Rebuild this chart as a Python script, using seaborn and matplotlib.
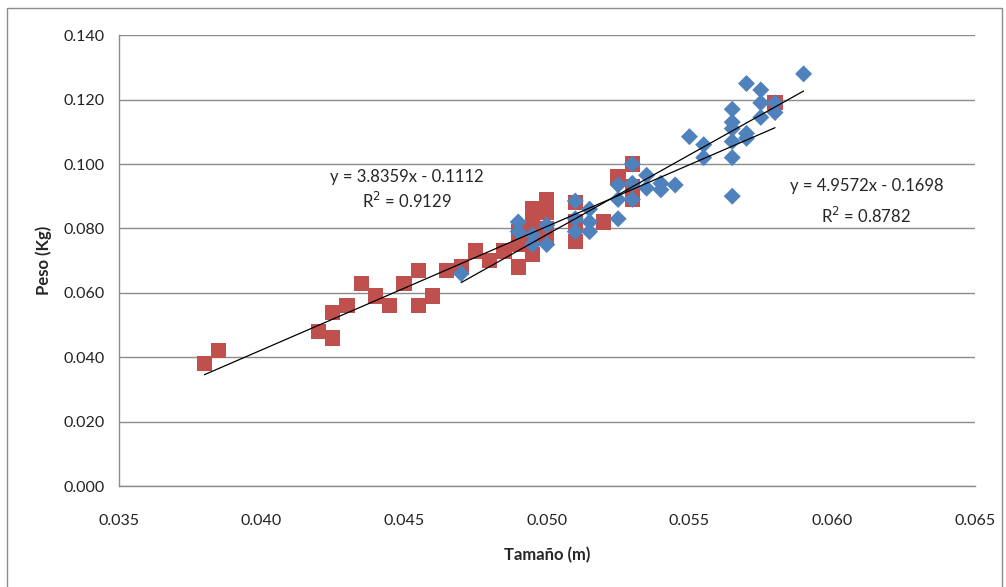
import numpy as np
import pandas as pd
import matplotlib
matplotlib.use('Agg')
import matplotlib.pyplot as plt
import seaborn as sns

# red series (squares)
red_x = [0.0380, 0.0385, 0.0420, 0.0425, 0.0425, 0.0430, 0.0435, 0.0440, 0.0445,
         0.0450, 0.0455, 0.0455, 0.0460, 0.0465, 0.0470, 0.0475, 0.0480, 0.0485,
         0.0490, 0.0490, 0.0490, 0.0495, 0.0495, 0.0495, 0.0495, 0.0500, 0.0500,
         0.0500, 0.0500, 0.0510, 0.0510, 0.0510, 0.0520, 0.0525, 0.0530, 0.0530,
         0.0530, 0.0580]
red_y = [0.038, 0.042, 0.048, 0.054, 0.046, 0.056, 0.063, 0.059, 0.056,
         0.063, 0.067, 0.056, 0.059, 0.067, 0.068, 0.073, 0.070, 0.073,
         0.068, 0.075, 0.079, 0.072, 0.078, 0.082, 0.086, 0.077, 0.080,
         0.085, 0.089, 0.076, 0.082, 0.088, 0.082, 0.096, 0.089, 0.093,
         0.100, 0.119]

# blue series (diamonds)
blue_x = [0.0470, 0.0490, 0.0490, 0.0495, 0.0495, 0.0500, 0.0500, 0.0510, 0.0510,
          0.0510, 0.0515, 0.0515, 0.0515, 0.0525, 0.0525, 0.0525, 0.0530, 0.0530,
          0.0530, 0.0535, 0.0535, 0.0540, 0.0540, 0.0545, 0.0550, 0.0555, 0.0555,
          0.0565, 0.0565, 0.0565, 0.0565, 0.0565, 0.0565, 0.0570, 0.0570, 0.0570,
          0.0575, 0.0575, 0.0575, 0.0580, 0.0580, 0.0590]
blue_y = [0.066, 0.082, 0.079, 0.078, 0.075, 0.081, 0.075, 0.0885, 0.083,
          0.079, 0.086, 0.082, 0.079, 0.0935, 0.089, 0.083, 0.100, 0.094,
          0.089, 0.0965, 0.0925, 0.094, 0.092, 0.0935, 0.1085, 0.106, 0.102,
          0.117, 0.113, 0.111, 0.107, 0.102, 0.090, 0.125, 0.1095, 0.108,
          0.123, 0.119, 0.1145, 0.119, 0.116, 0.128]

# trendline coefficients as printed on the chart
red_fit = (3.8359, -0.1112)
blue_fit = (4.9572, -0.1698)

x_ticks = [0.035, 0.040, 0.045, 0.050, 0.055, 0.060, 0.065]
y_ticks = [0.000, 0.020, 0.040, 0.060, 0.080, 0.100, 0.120, 0.140]

red_col = '#C0504D'
blue_col = '#4F81BD'

sns.set_style('white')
plt.rcParams['font.family'] = ['Lato', 'DejaVu Sans']

fig = plt.figure(figsize=(10.06, 5.87), dpi=100)
ax = fig.add_axes([0.118, 0.172, 0.851, 0.768])

df_red = pd.DataFrame({'x': red_x, 'y': red_y})
df_blue = pd.DataFrame({'x': blue_x, 'y': blue_y})

sns.scatterplot(data=df_red, x='x', y='y', marker='s', s=120, color=red_col,
                edgecolor='none', ax=ax, zorder=3)
sns.scatterplot(data=df_blue, x='x', y='y', marker='D', s=75, color=blue_col,
                edgecolor='none', ax=ax, zorder=4)

# trendlines over each series' range
for xs, (m, b) in [(red_x, red_fit), (blue_x, blue_fit)]:
    xl = np.array([min(xs), max(xs)])
    ax.plot(xl, m * xl + b, color='black', lw=0.9, zorder=5)

ax.set_xlim(0.035, 0.065)
ax.set_ylim(0.0, 0.140)
ax.set_xticks(x_ticks)
ax.set_yticks(y_ticks)
ax.set_xticklabels([f'{v:.3f}' for v in x_ticks])
ax.set_yticklabels([f'{v:.3f}' for v in y_ticks])
ax.tick_params(length=0, labelsize=11.5, colors='#222222')
ax.tick_params(axis='y', pad=10)
ax.tick_params(axis='x', pad=20)

ax.yaxis.grid(True, color='#8c8c8c', lw=1)
ax.xaxis.grid(False)
ax.set_axisbelow(True)
for side in ['top', 'right']:
    ax.spines[side].set_visible(False)
for side in ['left', 'bottom']:
    ax.spines[side].set_color('#8c8c8c')
    ax.spines[side].set_linewidth(1)

ax.set_xlabel('Tamaño (m)', fontsize=12, fontweight='bold', labelpad=14)
ax.set_ylabel('Peso (Kg)', fontsize=12, fontweight='bold', labelpad=8)

ax.text(0.0451, 0.0959, 'y = 3.8359x - 0.1112', ha='center', va='center', fontsize=12)
ax.text(0.0451, 0.0886, 'R$^2$ = 0.9129', ha='center', va='center', fontsize=12)
ax.text(0.0612, 0.0931, 'y = 4.9572x - 0.1698', ha='center', va='center', fontsize=12)
ax.text(0.0612, 0.0840, 'R$^2$ = 0.8782', ha='center', va='center', fontsize=12)

# outer chart border
fig.patches.append(plt.Rectangle((7 / 1006, -0.02), 995 / 1006, 1 - 8 / 587 + 0.02,
                                 transform=fig.transFigure, fill=False,
                                 edgecolor='#8c8c8c', lw=1))

fig.savefig('out.png', dpi=100)
